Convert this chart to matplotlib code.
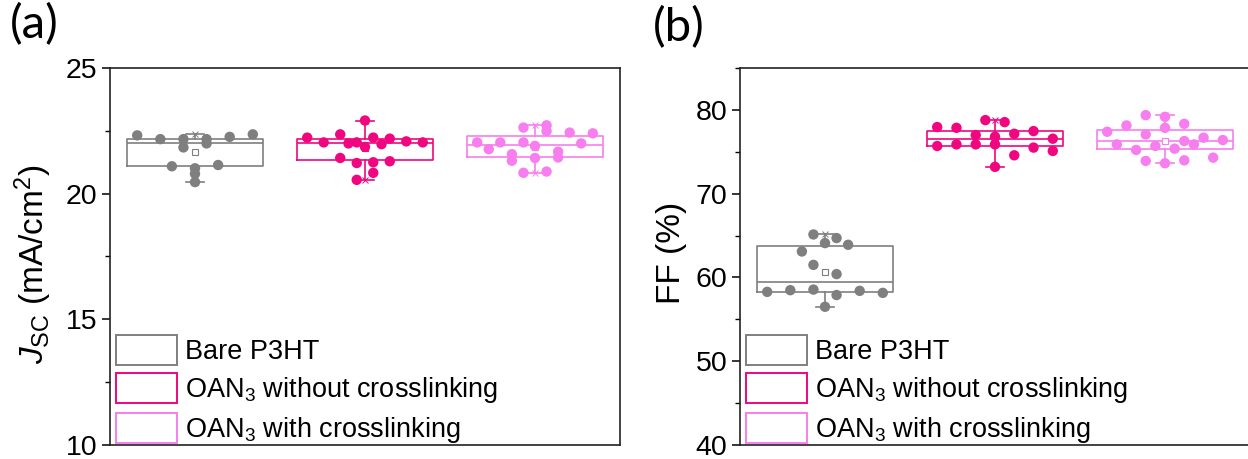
import numpy as np
import matplotlib
matplotlib.use("Agg")
import matplotlib.pyplot as plt
from matplotlib.patches import Patch
from matplotlib.ticker import MultipleLocator

plt.rcParams['font.family'] = ['Liberation Sans', 'DejaVu Sans']
plt.rcParams['mathtext.fontset'] = 'custom'
plt.rcParams['mathtext.rm'] = 'Liberation Sans'
plt.rcParams['mathtext.it'] = 'Liberation Sans:italic'
plt.rcParams['mathtext.bf'] = 'Liberation Sans:bold'

labels = ['Bare P3HT', 'OAN$_3$ without crosslinking', 'OAN$_3$ with crosslinking']
colors = ['#7f7f7f', '#f0077f', '#f77eee']

# Jsc (mA/cm2) per device, grouped by value band, left to right inside a band
jsc_bare = [22.32, 22.17, 22.17, 22.17, 22.26, 22.36,
            21.84, 22.00,
            21.09, 21.01, 21.14,
            20.79,
            20.46]
jsc_oan = [22.91,
           22.23, 22.04, 22.36, 22.04, 22.23, 22.19, 22.08, 22.04,
           22.00, 21.86, 21.97,
           21.42, 21.22, 21.25, 21.29,
           20.55, 20.83]
jsc_xl = [22.63, 22.72,
          22.04, 22.04, 22.04, 22.49, 22.43, 22.40,
          21.77, 21.57, 21.90, 21.67, 22.00,
          21.31, 21.42, 21.44,
          20.83, 20.88]

# FF (%) per device
ff_bare = [65.13, 64.70,
           63.10, 64.10, 63.90,
           61.50, 60.40,
           58.28, 58.48, 58.55, 57.90, 58.40, 58.16,
           56.50]
ff_oan = [78.78, 78.54,
          77.95, 77.86, 77.00, 76.80, 77.15, 77.47, 76.56,
          75.69, 75.88, 75.88, 75.88, 74.58, 75.50, 75.10,
          73.20]
ff_xl = [79.37, 79.17, 78.34,
         77.39, 78.14, 77.07, 77.86, 76.28, 76.68, 76.40,
         75.88, 75.22, 75.69, 75.37, 75.88, 74.30,
         73.91, 73.63, 73.98]

# (bin width, bin anchor) used to spread the points sideways
jsc_bins = [(0.30, 22.10), (0.54, 22.02), (0.54, 22.02)]
ff_bins = [(2.2, 64.4), (2.0, 78.2), (2.0, 78.2)]


def bin_layout(values, center, bin_w, anchor, span=0.68):
    """x positions for points: equal spacing inside each value bin, centred."""
    vals = np.asarray(values, dtype=float)
    idx = np.floor((vals - anchor) / bin_w + 1e-9).astype(int)
    keys, counts = np.unique(idx, return_counts=True)
    step = span / max(counts.max() - 1, 1)
    xs = np.empty_like(vals)
    for k, n in zip(keys, counts):
        members = np.where(idx == k)[0]
        xs[members] = center + (np.arange(n) - (n - 1) / 2) * step
    return xs


def box_panel(ax, data, bins, ylim, major, minor, ylabel):
    pos = [1, 2, 3]
    bp = ax.boxplot(data, positions=pos, widths=0.8, whis=(0, 100),
                    showmeans=True, showfliers=False, capwidths=0.11,
                    manage_ticks=False)
    for i, c in enumerate(colors):
        bp['boxes'][i].set(color=c, linewidth=1.2)
        bp['medians'][i].set(color=c, linewidth=1.2)
        for w in bp['whiskers'][2 * i:2 * i + 2]:
            w.set(color=c, linewidth=1.2)
        for cap in bp['caps'][2 * i:2 * i + 2]:
            cap.set(color=c, linewidth=1.2)
        bp['means'][i].set(marker='s', markerfacecolor='white',
                           markeredgecolor=c, markersize=4.5,
                           markeredgewidth=0.8)
        vals = np.asarray(data[i])
        ax.plot([pos[i], pos[i]], [vals.min(), vals.max()], ls='none',
                marker='x', ms=4, mew=0.7, color=c, zorder=2)
        xs = bin_layout(vals, pos[i], *bins[i])
        ax.scatter(xs, vals, s=56, color=c, edgecolors='none', zorder=3)

    ax.set_xlim(0.5, 3.5)
    ax.set_ylim(*ylim)
    ax.set_xticks([])
    ax.yaxis.set_major_locator(MultipleLocator(major))
    ax.yaxis.set_minor_locator(MultipleLocator(minor))
    ax.tick_params(axis='y', which='major', direction='out', length=6,
                   width=1.1, labelsize=20.5, pad=3)
    ax.tick_params(axis='y', which='minor', direction='out', length=3.5,
                   width=1.0)
    for sp in ax.spines.values():
        sp.set_color('#222222')
        sp.set_linewidth(1.2)
    ax.set_ylabel(ylabel, fontsize=24)

    handles = [Patch(facecolor='none', edgecolor=c, linewidth=1.4)
               for c in colors]
    ax.legend(handles, labels, loc='lower left', bbox_to_anchor=(0.012, 0.0),
              frameon=False, fontsize=19.5, handlelength=2.25, handleheight=1.33,
              handletextpad=0.3, labelspacing=0.3, borderpad=0,
              borderaxespad=0)


fig = plt.figure(figsize=(12.48, 4.59), dpi=100)
W, H = 1248, 459
ax_a = fig.add_axes([110 / W, 14 / H, 510 / W, 377 / H])
ax_b = fig.add_axes([740 / W, 14 / H, 510 / W, 377 / H])

box_panel(ax_a, [jsc_bare, jsc_oan, jsc_xl], jsc_bins, (10, 25), 5, 2.5,
          r'$\mathit{J}_{\mathrm{SC}}$ (mA/cm$^2$)')
box_panel(ax_b, [ff_bare, ff_oan, ff_xl], ff_bins, (40, 85), 10, 5,
          'FF (%)')
ax_a.yaxis.set_label_coords(-0.11, 0.48)
ax_b.yaxis.set_label_coords(-0.104, 0.51)

fig.text(10 / W, 1 - 3 / H, '(a)', fontsize=34, family='Lato', va='top')
fig.text(653 / W, 1 - 6 / H, '(b)', fontsize=34, family='Lato', va='top')

fig.savefig('out.png', dpi=100)
